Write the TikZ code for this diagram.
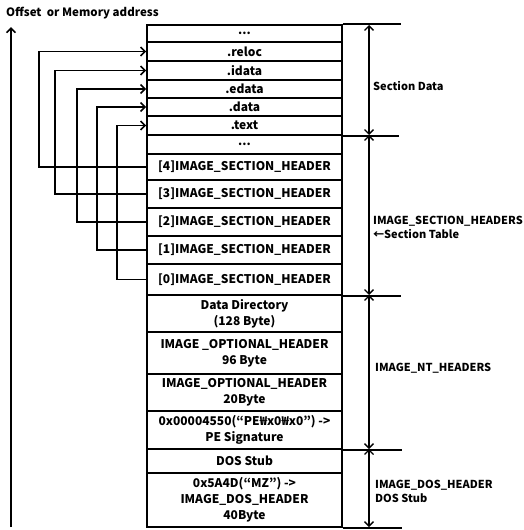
\documentclass[tikz,border=0pt]{standalone}
\usepackage{fontspec}
\setmainfont{Noto Sans CJK KR}
\usetikzlibrary{arrows.meta}
\tikzset{
  x=1pt,y=-1pt,
  every node/.style={font=\fontsize{12}{16}\selectfont\bfseries},
  rowbox/.style={draw,line width=1.6pt,minimum width=195pt,inner sep=0pt,align=center,anchor=center},
  conn/.style={line width=1.6pt,-{Straight Barb[length=4.5pt,width=9pt,line width=1.6pt]}},
  dimarrow/.style={line width=1.4pt,{Straight Barb[length=4.5pt,width=9pt,line width=1.4pt]}-{Straight Barb[length=4.5pt,width=9pt,line width=1.4pt]}},
  extline/.style={line width=1.6pt},
  sidelabel/.style={anchor=west,align=left,inner sep=0pt,font=\fontsize{11}{14}\selectfont\bfseries}
}
\begin{document}
\begin{tikzpicture}
\useasboundingbox (0,0) rectangle (524,530);
% rows
\node[rowbox,minimum height=17pt] (r0) at (244.5,33.5) {...};
\node[rowbox,minimum height=19pt] (reloc) at (244.5,51.5) {.reloc};
\node[rowbox,minimum height=19pt] (idata) at (244.5,70.5) {.idata};
\node[rowbox,minimum height=18pt] (edata) at (244.5,89) {.edata};
\node[rowbox,minimum height=18pt] (data) at (244.5,107) {.data};
\node[rowbox,minimum height=19pt] (text) at (244.5,125.5) {.text};
\node[rowbox,minimum height=19pt] (dots) at (244.5,144.5) {...};
\node[rowbox,minimum height=26pt] (h4) at (244.5,167) {[4]IMAGE\_SECTION\_HEADER};
\node[rowbox,minimum height=28pt] (h3) at (244.5,194) {[3]IMAGE\_SECTION\_HEADER};
\node[rowbox,minimum height=28pt] (h2) at (244.5,222) {[2]IMAGE\_SECTION\_HEADER};
\node[rowbox,minimum height=28pt] (h1) at (244.5,250) {[1]IMAGE\_SECTION\_HEADER};
\node[rowbox,minimum height=31pt] (h0) at (244.5,279.5) {[0]IMAGE\_SECTION\_HEADER};
\node[rowbox,minimum height=37pt] (dd) at (244.5,313.5) {Data Directory\\(128 Byte)};
\node[rowbox,minimum height=42pt] (opt96) at (244.5,353) {IMAGE \_OPTIONAL\_HEADER\\96 Byte};
\node[rowbox,minimum height=37pt] (opt20) at (244.5,392.5) {IMAGE\_OPTIONAL\_HEADER\\20Byte};
\node[rowbox,minimum height=38pt] (pe) at (244.5,430) {0x00004550(“PE₩x0₩x0”) ->\\PE Signature};
\node[rowbox,minimum height=24pt] (stub) at (244.5,461) {DOS Stub};
\node[rowbox,minimum height=54pt] (dos) at (244.5,500) {0x5A4D(“MZ”) ->\\IMAGE\_DOS\_HEADER\\40Byte};
% connectors
\draw[conn] (h4.west) -- +(-107,0) |- (reloc.west);
\draw[conn] (h3.west) -- +(-91,0) |- (idata.west);
\draw[conn] (h2.west) -- +(-69,0) |- (edata.west);
\draw[conn] (h1.west) -- +(-49,0) |- (data.west);
\draw[conn] (h0.west) -- +(-29,0) |- (text.west);
% axis
\coordinate (axb) at (11,527);
\coordinate (axt) at (11,27);
\draw[conn] (axb) -- (axt);
\node[anchor=west,inner sep=0pt,font=\fontsize{11.5}{13}\selectfont\bfseries] (axlabel) at (6,13) {Offset\ \ or Memory address};
% extension lines
\draw[extline] (r0.north east) -- +(58,0) coordinate (e0);
\draw[extline] (text.south east) -- +(56,0) coordinate (e1);
\draw[extline] (h0.south east) -- +(58,0) coordinate (e2);
\draw[extline] (pe.south east) -- +(59,0) coordinate (e3);
\draw[extline] (dos.south east) -- +(59,0) coordinate (e4);
% dimension arrows
\coordinate (d0) at (369,25);
\coordinate (d1) at (369,135);
\coordinate (d2) at (369,295);
\coordinate (d3) at (369,449);
\coordinate (d4) at (369,527);
\draw[dimarrow] (d0) -- (d1);
\draw[dimarrow] (d1) -- (d2);
\draw[dimarrow] (d2) -- (d3);
\draw[dimarrow] (d3) -- (d4);
% side labels
\node[sidelabel] (lsd) at (373,86) {Section Data};
\node[sidelabel] (lsh) at (373,227) {IMAGE\_SECTION\_HEADERS\\←Section Table};
\node[sidelabel] (lnt) at (375,368) {IMAGE\_NT\_HEADERS};
\node[sidelabel] (ldos) at (375,491) {IMAGE\_DOS\_HEADER\\DOS Stub};
\end{tikzpicture}
\end{document}
